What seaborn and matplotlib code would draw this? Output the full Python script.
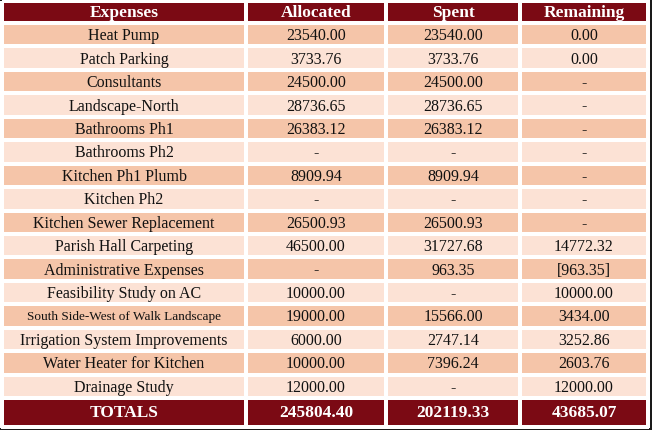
import numpy as np
import matplotlib
matplotlib.use("Agg")
import matplotlib.pyplot as plt
from matplotlib.colors import ListedColormap
import seaborn as sns

headers = ["Expenses", "Allocated", "Spent", "Remaining"]
expenses = ["Heat Pump", "Patch Parking", "Consultants", "Landscape-North", "Bathrooms Ph1",
            "Bathrooms Ph2", "Kitchen Ph1 Plumb", "Kitchen Ph2", "Kitchen Sewer Replacement",
            "Parish Hall Carpeting", "Administrative Expenses", "Feasibility Study on AC",
            "South Side-West of Walk Landscape", "Irrigation System Improvements",
            "Water Heater for Kitchen", "Drainage Study"]
allocated = ["23540.00", "3733.76", "24500.00", "28736.65", "26383.12", "-", "8909.94", "-",
             "26500.93", "46500.00", "-", "10000.00", "19000.00", "6000.00", "10000.00", "12000.00"]
spent = ["23540.00", "3733.76", "24500.00", "28736.65", "26383.12", "-", "8909.94", "-",
         "26500.93", "31727.68", "963.35", "-", "15566.00", "2747.14", "7396.24", "-"]
remaining = ["0.00", "0.00", "-", "-", "-", "-", "-", "-", "-", "14772.32", "[963.35]",
             "10000.00", "3434.00", "3252.86", "2603.76", "12000.00"]
totals = ["TOTALS", "245804.40", "202119.33", "43685.07"]

sns.set_theme(style="white")
plt.rcParams['font.family'] = ['Liberation Serif', 'DejaVu Serif']

W, H = 652, 431
fig = plt.figure(figsize=(W / 100, H / 100), dpi=100)
fig.patch.set_facecolor("#1a1a1a")
ax = fig.add_axes([0, 0, 1, 1])
ax.set_xlim(0, W)
ax.set_ylim(H, 0)
ax.axis("off")

xe = np.array([2, 246, 386, 520, 648])
n = len(expenses)
ye = np.concatenate([[2], np.linspace(24, 399, n + 1), [428]])
# colour code: 0 header/total, 1 dark row, 2 light row
codes = np.array([[0] * 4] + [[1 + (i % 2)] * 4 for i in range(n)] + [[0] * 4])
cmap = ListedColormap(["#7b0a14", "#f5c5a9", "#fce2d5"])
ax.pcolormesh(xe, ye, codes, cmap=cmap, vmin=-0.5, vmax=2.5, edgecolors="white", linewidth=1.5)

xc = (xe[:-1] + xe[1:]) / 2
yc = (ye[:-1] + ye[1:]) / 2
for j, h in enumerate(headers):
    ax.text(xc[j], yc[0], h, ha="center", va="center", color="white", fontsize=12.5, fontweight="bold")
cols = [expenses, allocated, spent, remaining]
for i in range(n):
    for j in range(4):
        txt = cols[j][i]
        fs = 11.5
        if j == 0 and len(txt) > 30:
            fs = 9.5
        ax.text(xc[j], yc[i + 1] + 0.5, txt, ha="center", va="center", color="#111111", fontsize=fs)
for j, t in enumerate(totals):
    ax.text(xc[j], yc[-1], t, ha="center", va="center", color="white", fontsize=12.5, fontweight="bold")

fig.savefig("out.png", dpi=100, facecolor=fig.get_facecolor())
